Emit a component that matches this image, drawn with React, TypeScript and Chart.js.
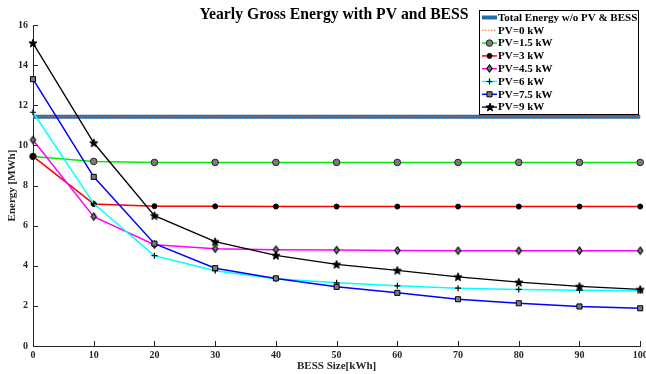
import React, { useEffect, useRef } from 'react';
import { Chart, registerables } from 'chart.js';
Chart.register(...registerables);

const bessSizes = [0, 10, 20, 30, 40, 50, 60, 70, 80, 90, 100];
const totalNoPvBess = [11.43, 11.43, 11.43, 11.43, 11.43, 11.43, 11.43, 11.43, 11.43, 11.43, 11.43];
const pv0 = [11.43, 11.43, 11.43, 11.43, 11.43, 11.43, 11.43, 11.43, 11.43, 11.43, 11.43];
const pv15 = [9.45, 9.2, 9.15, 9.15, 9.15, 9.15, 9.15, 9.15, 9.15, 9.15, 9.15];
const pv3 = [9.45, 7.08, 6.97, 6.96, 6.95, 6.95, 6.95, 6.95, 6.95, 6.95, 6.95];
const pv45 = [10.27, 6.45, 5.05, 4.85, 4.8, 4.78, 4.76, 4.75, 4.75, 4.75, 4.75];
const pv6 = [11.65, 7.1, 4.5, 3.75, 3.35, 3.15, 3.0, 2.88, 2.82, 2.78, 2.75];
const pv75 = [13.3, 8.43, 5.1, 3.88, 3.37, 2.95, 2.65, 2.33, 2.13, 1.97, 1.88];
const pv9 = [15.1, 10.13, 6.5, 5.2, 4.52, 4.07, 3.77, 3.45, 3.18, 2.97, 2.82];
const yTicks = [0, 2, 4, 6, 8, 10, 12, 14, 16];
const xTicks = [0, 10, 20, 30, 40, 50, 60, 70, 80, 90, 100];

const FONT = '"Liberation Serif", "Times New Roman", serif';
const AXIS = '#262626';

function makeStar(r: number) {
  const c = document.createElement('canvas');
  const s = Math.ceil(r * 2 + 3);
  c.width = s;
  c.height = s;
  const ctx = c.getContext('2d')!;
  const cx = s / 2, cy = s / 2 + 0.4;
  ctx.beginPath();
  for (let i = 0; i < 10; i++) {
    const a = -Math.PI / 2 + (i * Math.PI) / 5;
    const rr = i % 2 ? r * 0.42 : r;
    const px = cx + rr * Math.cos(a), py = cy + rr * Math.sin(a);
    if (i === 0) ctx.moveTo(px, py); else ctx.lineTo(px, py);
  }
  ctx.closePath();
  ctx.fillStyle = '#000';
  ctx.fill();
  ctx.strokeStyle = '#000';
  ctx.lineWidth = 1;
  ctx.stroke();
  return c;
}

function makeDiamond(hw: number, hh: number, fill: string) {
  const c = document.createElement('canvas');
  c.width = Math.ceil(hw * 2 + 3);
  c.height = Math.ceil(hh * 2 + 3);
  const ctx = c.getContext('2d')!;
  const cx = c.width / 2, cy = c.height / 2;
  ctx.beginPath();
  ctx.moveTo(cx, cy - hh);
  ctx.lineTo(cx + hw, cy);
  ctx.lineTo(cx, cy + hh);
  ctx.lineTo(cx - hw, cy);
  ctx.closePath();
  ctx.fillStyle = fill;
  ctx.fill();
  ctx.strokeStyle = '#000';
  ctx.lineWidth = 1.2;
  ctx.stroke();
  return c;
}

export default function App() {
  const ref = useRef<HTMLCanvasElement>(null);
  useEffect(() => {
    document.body.style.margin = '0';
    const gray = '#7a7a7a';
    const star = makeStar(4.3);
    const diamond = makeDiamond(2.6, 3.6, gray);
    const datasets: any[] = [
      { label: 'Total Energy w/o PV & BESS', data: totalNoPvBess, borderColor: '#1f6fb4', borderWidth: 4, pointRadius: 0, order: 20 },
      { label: 'PV=0 kW', data: pv0, borderColor: '#e8641b', borderWidth: 1, borderDash: [1.5, 1.5], pointRadius: 0, order: 19 },
      { label: 'PV=1.5 kW', data: pv15, borderColor: '#00ee00', borderWidth: 1.5, pointStyle: 'circle', pointRadius: 3.3, pointBackgroundColor: gray, pointBorderColor: '#222', pointBorderWidth: 1, order: 8 },
      { label: 'PV=3 kW', data: pv3, borderColor: '#ff0000', borderWidth: 1.5, pointStyle: 'circle', pointRadius: 2.5, pointBackgroundColor: '#000', pointBorderColor: '#000', pointBorderWidth: 1, order: 7 },
      { label: 'PV=4.5 kW', data: pv45, borderColor: '#ff00ff', borderWidth: 1.5, pointStyle: diamond, pointRadius: 4, pointBackgroundColor: gray, pointBorderColor: '#000', pointBorderWidth: 1, order: 6 },
      { label: 'PV=6 kW', data: pv6, borderColor: '#00ffff', borderWidth: 1.5, pointStyle: 'cross', pointRadius: 3, pointBackgroundColor: '#000', pointBorderColor: '#000', pointBorderWidth: 1.2, order: 5 },
      { label: 'PV=7.5 kW', data: pv75, borderColor: '#0000ff', borderWidth: 1.5, pointStyle: 'rect', pointRadius: 3.6, pointBackgroundColor: gray, pointBorderColor: '#000', pointBorderWidth: 1, order: 4 },
      { label: 'PV=9 kW', data: pv9, borderColor: '#000000', borderWidth: 1.3, pointStyle: star, pointRadius: 4.5, pointBackgroundColor: '#000', pointBorderColor: '#000', order: 3 },
    ].map((d) => ({ ...d, data: d.data.map((v: number, i: number) => ({ x: bessSizes[i], y: v })), fill: false, tension: 0, clip: false }));

    function drawMarker(ctx: CanvasRenderingContext2D, style: any, r: number, x: number, y: number) {
      if (typeof style !== 'string') {
        ctx.drawImage(style, Math.round(x - style.width / 2), Math.round(y - style.height / 2));
        return;
      }
      ctx.beginPath();
      if (style === 'circle') {
        ctx.arc(x, y, r, 0, Math.PI * 2);
        ctx.fill();
        ctx.stroke();
      } else if (style === 'rect') {
        const s = r * Math.SQRT1_2;
        ctx.rect(x - s, y - s, 2 * s, 2 * s);
        ctx.fill();
        ctx.stroke();
      } else if (style === 'cross') {
        ctx.moveTo(x - r, y);
        ctx.lineTo(x + r, y);
        ctx.moveTo(x, y - r);
        ctx.lineTo(x, y + r);
        ctx.stroke();
      }
    }

    const decor = {
      id: 'decor',
      afterDraw(chart: any) {
        const ctx = chart.ctx;
        const xs = chart.scales.x, ys = chart.scales.y;
        const ca = chart.chartArea;
        ctx.save();
        ctx.strokeStyle = AXIS;
        ctx.lineWidth = 1;
        ctx.beginPath();
        xs.ticks.forEach((t: any) => {
          const px = Math.round(xs.getPixelForValue(t.value)) + 0.5;
          ctx.moveTo(px, ca.bottom);
          ctx.lineTo(px, ca.bottom - 5);
        });
        ys.ticks.forEach((t: any) => {
          const py = Math.round(ys.getPixelForValue(t.value)) + 0.5;
          ctx.moveTo(ca.left, py);
          ctx.lineTo(ca.left + 5, py);
        });
        ctx.stroke();
        ctx.fillStyle = '#000';
        ctx.textAlign = 'center';
        ctx.textBaseline = 'middle';
        ctx.font = `bold 15.7px ${FONT}`;
        ctx.fillText('Yearly Gross Energy with PV and BESS', 334, 15);
        ctx.font = `bold 11px ${FONT}`;
        ctx.fillStyle = AXIS;
        ctx.fillText('BESS Size[kWh]', (ca.left + ca.right) / 2, 366);
        ctx.save();
        ctx.translate(12, (ca.top + ca.bottom) / 2);
        ctx.rotate(-Math.PI / 2);
        ctx.fillText('Energy [MWh]', 0, 0);
        ctx.restore();
        const bx = 479.5, by = 10.5, bw = 159, bh = 104;
        ctx.fillStyle = '#fff';
        ctx.fillRect(bx, by, bw, bh);
        ctx.strokeStyle = '#000';
        ctx.lineWidth = 1;
        ctx.strokeRect(bx, by, bw, bh);
        ctx.font = `bold 11px ${FONT}`;
        ctx.textAlign = 'left';
        ctx.textBaseline = 'middle';
        chart.data.datasets.forEach((d: any, i: number) => {
          const y = 17.5 + i * 12.8;
          ctx.save();
          ctx.strokeStyle = d.borderColor;
          ctx.lineWidth = d.borderWidth;
          ctx.setLineDash(d.borderDash || []);
          ctx.beginPath();
          ctx.moveTo(482, y);
          ctx.lineTo(497, y);
          ctx.stroke();
          ctx.restore();
          if (d.pointRadius > 0) {
            ctx.save();
            ctx.fillStyle = d.pointBackgroundColor;
            ctx.strokeStyle = d.pointBorderColor;
            ctx.lineWidth = d.pointBorderWidth || 1;
            drawMarker(ctx, d.pointStyle, d.pointRadius, 489.5, y);
            ctx.restore();
          }
          ctx.fillStyle = '#000';
          ctx.fillText(d.label, 498, y + 0.5);
        });
        ctx.restore();
      },
    };

    const chart = new Chart(ref.current!, {
      type: 'line',
      data: { datasets },
      options: {
        animation: false,
        responsive: false,
        devicePixelRatio: 1,
        layout: { padding: { top: 25, right: 5, left: 0, bottom: 0 } },
        plugins: { legend: { display: false }, title: { display: false }, tooltip: { enabled: false } },
        scales: {
          x: {
            type: 'linear',
            min: 0,
            max: 100,
            afterBuildTicks: (s: any) => { s.ticks = xTicks.map((v) => ({ value: v })); },
            ticks: { font: { family: FONT, weight: 'bold', size: 10 }, color: AXIS, padding: 3, maxRotation: 0, autoSkip: false },
            grid: { display: false, drawTicks: false },
            border: { display: true, color: AXIS, width: 1 },
            afterFit: (s: any) => { s.height = 28; s.paddingLeft = 0; s.paddingRight = 0; },
          },
          y: {
            type: 'linear',
            min: 0,
            max: 16,
            afterBuildTicks: (s: any) => { s.ticks = yTicks.map((v) => ({ value: v })); },
            ticks: { font: { family: FONT, weight: 'bold', size: 10 }, color: AXIS, padding: 5, autoSkip: false },
            grid: { display: false, drawTicks: false },
            border: { display: true, color: AXIS, width: 1 },
            afterFit: (s: any) => { s.width = 33; s.paddingTop = 0; s.paddingBottom = 0; },
          },
        },
      } as any,
      plugins: [decor],
    });
    return () => chart.destroy();
  }, []);
  return (
    <div style={{ width: 646, height: 374, background: '#fff' }}>
      <canvas ref={ref} width={646} height={374} style={{ display: 'block' }} />
    </div>
  );
}
